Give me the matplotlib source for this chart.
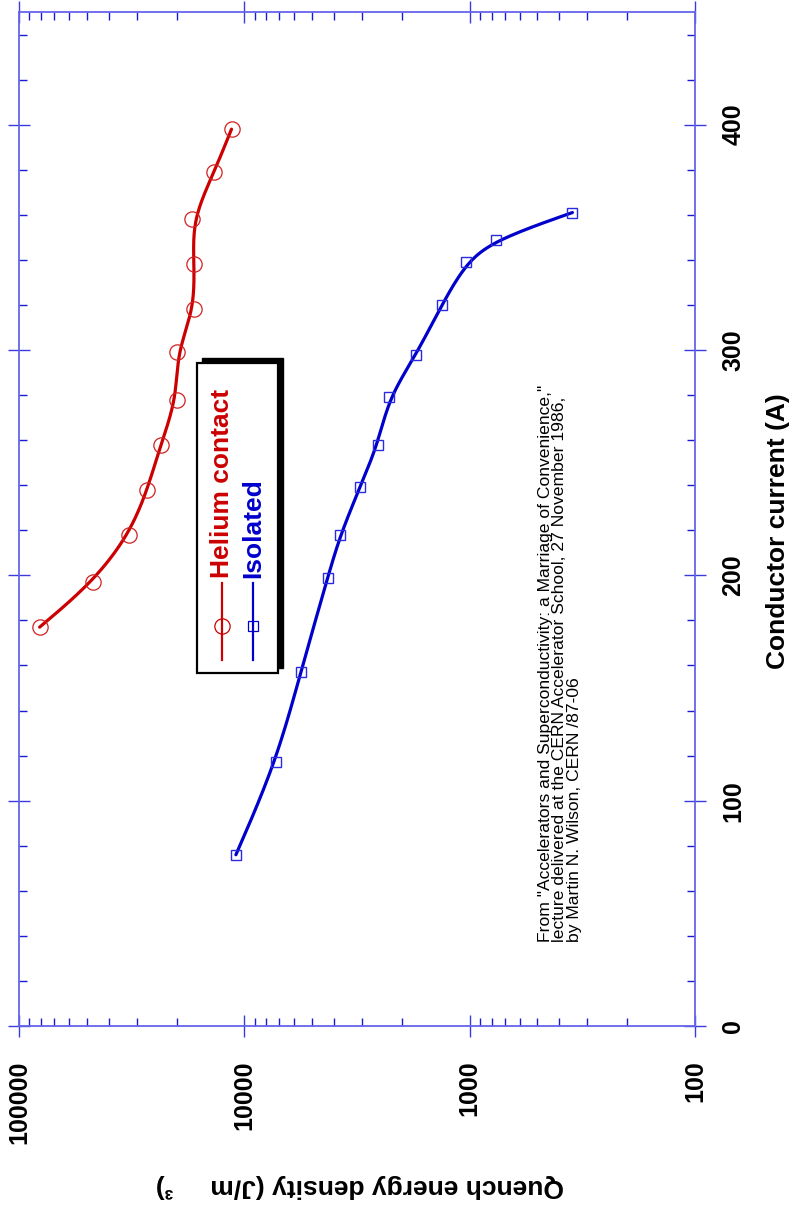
'''
Quench energy density vs conductor current (rotated page layout)
'''
import numpy as np
import matplotlib
matplotlib.use('Agg')
import matplotlib.pyplot as plt
from matplotlib.ticker import LogLocator, MultipleLocator, FixedLocator, FixedFormatter, NullFormatter
from matplotlib.patches import Rectangle
from matplotlib.lines import Line2D

# data
helium_current = [177, 197, 218, 238, 258, 278, 299, 318, 338, 358, 379, 398]
helium_energy = [81000, 47000, 32500, 26900, 23500, 20000, 19900, 16700, 16700, 17000, 13600, 11400]

isolated_current = [76, 117, 157, 199, 218, 239, 258, 279, 298, 320, 339, 349, 361]
isolated_energy = [10900, 7230, 5620, 4270, 3750, 3070, 2560, 2280, 1725, 1330, 1035, 765, 350]

energy_ticks = [100, 1000, 10000, 100000]
energy_labels = ['100', '1000', '10000', '100000']
current_ticks = [0, 100, 200, 300, 400]
current_labels = ['0', '100', '200', '300', '400']

series_names = ['Helium contact', 'Isolated']
note = ('From "Accelerators and Superconductivity: a Marriage of Convenience,"\n'
        'lecture delivered at the CERN Accelerator School, 27 November 1986,\n'
        'by Martin N. Wilson, CERN /87-06')

RED = '#cc0000'
BLUE = '#0000cc'
AXIS = '#6464ea'

plt.rcParams['font.family'] = ['Liberation Sans', 'DejaVu Sans']

W, H = 793, 1205


def fx(px):
    return px / W


def fy(py):
    return 1 - py / H


def smooth(xs, ys, n=24):
    '''uniform cubic B-spline over the measured points, clamped at both ends'''
    pts = np.column_stack([xs, ys]).astype(float)
    p = np.vstack([pts[:1], pts[:1], pts, pts[-1:], pts[-1:]])
    t = np.linspace(0, 1, n, endpoint=False)[:, None]
    b0 = (1 - t) ** 3 / 6
    b1 = (3 * t ** 3 - 6 * t ** 2 + 4) / 6
    b2 = (-3 * t ** 3 + 3 * t ** 2 + 3 * t + 1) / 6
    b3 = t ** 3 / 6
    out = []
    for i in range(len(p) - 3):
        out.append(b0 * p[i] + b1 * p[i + 1] + b2 * p[i + 2] + b3 * p[i + 3])
    out.append(pts[-1:])
    return np.vstack(out)


fig = plt.figure(figsize=(W / 100, H / 100), dpi=100)
ax = fig.add_axes([fx(19), fy(1026), fx(695) - fx(19), fy(12) - fy(1026)])

# curves (energy on horizontal log axis, current vertical)
for energy, current, col in [(helium_energy, helium_current, RED),
                             (isolated_energy, isolated_current, BLUE)]:
    c = smooth(np.log10(energy), current)
    ax.plot(10 ** c[:, 0], c[:, 1], color=col, lw=2.3, zorder=3, solid_capstyle='round')

ax.plot(helium_energy, helium_current, 'o', ms=11, mfc='none', mec='#d22020', mew=0.9, zorder=4)
ax.plot(isolated_energy, isolated_current, 's', ms=7.5, mfc='none', mec='#2a2ae0', mew=1.0, zorder=4)

ax.set_xscale('log')
ax.set_xlim(100000, 100)
ax.set_ylim(0, 450)

ax.xaxis.set_major_locator(FixedLocator(energy_ticks))
ax.xaxis.set_major_formatter(FixedFormatter(energy_labels))
ax.xaxis.set_minor_locator(LogLocator(base=10, subs=np.arange(2, 10)))
ax.xaxis.set_minor_formatter(NullFormatter())
ax.yaxis.set_major_locator(FixedLocator(current_ticks))
ax.yaxis.set_major_formatter(FixedFormatter(current_labels))
ax.yaxis.set_minor_locator(MultipleLocator(20))

for s in ax.spines.values():
    s.set_color(AXIS)
    s.set_linewidth(1.3)

ax.tick_params(which='major', direction='inout', length=16, width=1.0, color='#3a3ae0',
               top=True, bottom=True, left=True, right=True,
               labelleft=False, labelright=True, labeltop=False, labelbottom=True,
               labelsize=18)
ax.tick_params(which='minor', direction='in', length=6, width=1.0, color='#1a1ad0',
               top=True, bottom=True, left=True, right=True)
ax.tick_params(axis='x', which='major', pad=17, labelrotation=90)
ax.tick_params(axis='y', which='major', pad=11, labelrotation=90)
for lab in ax.get_xticklabels() + ax.get_yticklabels():
    lab.set_fontweight('bold')
for lab in ax.get_yticklabels():
    lab.set_verticalalignment('center')

# axis titles
fig.text(fx(778), fy(531), 'Conductor current (A)', rotation=90, ha='center', va='center',
         fontsize=19, fontweight='bold')
fig.text(fx(360), fy(1186), 'Quench energy density (J/m     \u00b3)', rotation=180,
         ha='center', va='center', fontsize=19, fontweight='bold')

# legend box with shadow
fig.add_artist(Rectangle((fx(202), fy(668)), fx(283) - fx(202), fy(358) - fy(668),
                         transform=fig.transFigure, facecolor='black', edgecolor='black', zorder=5))
fig.add_artist(Rectangle((fx(197), fy(673)), fx(278) - fx(197), fy(363) - fy(673),
                         transform=fig.transFigure, facecolor='white', edgecolor='black',
                         lw=1.6, zorder=6))
for xpix, col, mk, ms, name in [(222, RED, 'o', 11, series_names[0]),
                                (253, BLUE, 's', 7.5, series_names[1])]:
    fig.add_artist(Line2D([fx(xpix)] * 2, [fy(583), fy(660)], transform=fig.transFigure,
                          color=col, lw=1.6, zorder=7))
    fig.add_artist(Line2D([fx(xpix)], [fy(626)], transform=fig.transFigure, marker=mk, ms=ms,
                          mfc='none', mec=col, mew=0.9, zorder=7))
    fig.text(fx(xpix), fy(578), name, rotation=90, ha='center', va='bottom', fontsize=19,
             fontweight='bold', color=col, zorder=8)

# citation
fig.text(fx(560), fy(942), note, rotation=90, ha='center', va='bottom', fontsize=12.6,
         multialignment='left', linespacing=0.97)

fig.savefig('out.png', dpi=100)
